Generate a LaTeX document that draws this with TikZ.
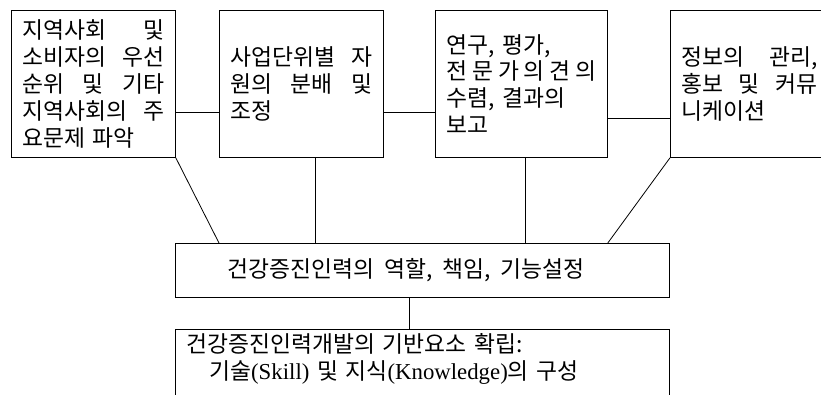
\documentclass[tikz,border=0pt]{standalone}
\usepackage{fontspec}
\setmainfont{Noto Sans CJK KR}
\newfontfamily\latin{Liberation Serif}
\usetikzlibrary{positioning}
\newcommand{\KR}{\fontsize{22.8}{26.8}\selectfont}

\tikzset{
  blk/.style={draw, line width=0.8pt, anchor=north west, inner xsep=11pt,
    inner ysep=0pt, align=left, font=\KR},
}

\begin{document}
\begin{tikzpicture}[x=1pt, y=-1pt, line width=0.8pt]

  \useasboundingbox (0,0) rectangle (821,394);
  \clip (0,0) rectangle (821,394);

  \newcommand\BoxH{147pt};

  % top row
  \node[blk, text width=142pt, minimum height=\BoxH] (b1) at (11,10)
    {지역사회\hfill 및\\ 소비자의\hfill 우선\\ 순위\hfill 및\hfill 기타\\ 지역사회의\hfill 주\\ 요문제 파악};
  \node[blk, text width=142pt, minimum height=\BoxH] (b2) at (219,10)
    {사업단위별\hfill 자\\ 원의\hfill 분배\hfill 및\\ 조정};
  \node[blk, text width=150pt, minimum height=\BoxH] (b3) at (435,10)
    {연구, 평가,\\ 전\hfill 문\hfill 가\hfill 의\hfill 견\hfill 의\\ 수렴, 결과의\\ 보고};
  \node[blk, text width=136pt, minimum height=\BoxH] (b4) at (670,10)
    {정보의\hfill 관리,\\ 홍보\hfill 및\hfill 커뮤\\ 니케이션};

  % middle and bottom
  \node[blk, text width=472pt, minimum height=54pt] (mid) at (175,243)
    {\hspace*{41pt}건강증진인력의\hspace{10pt}역할,\hspace{10pt}책임,\hspace{10pt}기능설정};
  \node[blk, text width=472pt, inner ysep=4pt, text depth=60pt] (bot) at (175,329)
    {건강증진인력개발의 기반요소 확립:\\
     \hspace*{1em}기술{\latin(Skill)} 및 지식{\latin(Knowledge)}의 구성};

  \draw ([yshift=-28.5pt]b1.east) -- ([yshift=-28.5pt]b2.west); % 1-2
  \draw ([yshift=-28.5pt]b2.east) -- ([yshift=-28.5pt]b3.west); % 2-3
  \draw ([yshift=-34.5pt]b3.east) -- ([yshift=-34.5pt]b4.west); % 3-4

  \draw (b1.south east) -- ([xshift=44pt]mid.north west); % 1-mid
  \draw ([xshift=14pt]b2.south) -- ([xshift=14pt]b2.south |- mid.north); % 2-mid
  \draw ([xshift=4pt]b3.south) -- ([xshift=4pt]b3.south |- mid.north); % 3-mid
  \draw (b4.south west) -- ([xshift=-62pt]mid.north east); % 4-mid

  \draw ([xshift=-13pt]mid.south) -- ([xshift=-13pt]mid.south |- bot.north); % mid-bot

\end{tikzpicture}
\end{document}
